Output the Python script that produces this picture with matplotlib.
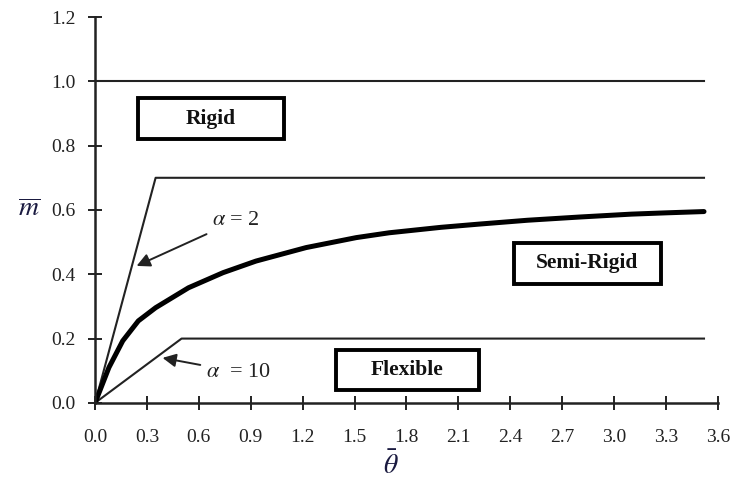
import numpy as np
import matplotlib.pyplot as plt
from matplotlib.patches import Rectangle

# moment-rotation curve
theta_curve = [0.0, 0.08, 0.16, 0.25, 0.35, 0.54, 0.74, 0.93, 1.22, 1.51, 1.70,
               2.0, 2.22, 2.5, 2.8, 3.1, 3.3, 3.52]
m_curve = [0.0, 0.11, 0.193, 0.255, 0.296, 0.358, 0.405, 0.441, 0.483, 0.514, 0.529,
           0.546, 0.556, 0.568, 0.578, 0.587, 0.591, 0.595]

# boundary lines
theta_rigid = [0.0, 3.52]
m_rigid = [1.0, 1.0]
theta_a2 = [0.0, 0.35, 3.52]
m_a2 = [0.0, 0.70, 0.70]
theta_a10 = [0.0, 0.50, 3.52]
m_a10 = [0.0, 0.20, 0.20]

xticks = np.arange(0, 3.61, 0.3)
yticks = np.arange(0, 1.21, 0.2)

# region labels: text, (x0, x1), (y0, y1) in data units
regions = [
    ('Rigid', (0.25, 1.09), (0.82, 0.948)),
    ('Semi-Rigid', (2.42, 3.27), (0.37, 0.497)),
    ('Flexible', (1.39, 2.22), (0.04, 0.165)),
]

plt.rcParams['font.family'] = ['Liberation Serif', 'DejaVu Serif']
plt.rcParams['mathtext.fontset'] = 'stix'

fig = plt.figure(figsize=(7.37, 4.86), dpi=100)
ax = fig.add_axes([0.129, 0.171, 0.845, 0.794])

ax.plot(theta_rigid, m_rigid, color='#222222', lw=1.5)
ax.plot(theta_a2, m_a2, color='#222222', lw=1.5)
ax.plot(theta_a10, m_a10, color='#222222', lw=1.5)
ax.plot(theta_curve, m_curve, color='black', lw=3.6, solid_capstyle='round')

ax.set_xlim(0, 3.6)
ax.set_ylim(0, 1.2)
ax.set_xticks(xticks)
ax.set_yticks(yticks)
ax.set_xticklabels(['%.1f' % v for v in xticks])
ax.set_yticklabels(['%.1f' % v for v in yticks])
ax.tick_params(direction='inout', length=10, width=1.4, labelsize=14,
               colors='#222222')
ax.tick_params(axis='x', pad=14)
ax.tick_params(axis='y', pad=9)
for s in ['top', 'right']:
    ax.spines[s].set_visible(False)
for s in ['left', 'bottom']:
    ax.spines[s].set_linewidth(1.8)
    ax.spines[s].set_color('#222222')

for label, (x0, x1), (y0, y1) in regions:
    ax.add_patch(Rectangle((x0, y0), x1 - x0, y1 - y0, fill=False,
                           ec='black', lw=2.8, zorder=3))
    ax.text((x0 + x1) / 2, (y0 + y1) / 2, label, ha='center', va='center',
            fontsize=15.5, fontweight='bold', color='#111111', zorder=4)

# alpha annotations
ax.annotate(r'$\alpha$ = 2', xy=(0.24, 0.426), xytext=(0.675, 0.566),
            fontsize=16, va='center', ha='left', color='#222222',
            arrowprops=dict(arrowstyle='-|>', color='#222222', lw=1.4,
                            mutation_scale=20, shrinkA=2, shrinkB=0))
ax.annotate(r'$\alpha$  = 10', xy=(0.39, 0.14), xytext=(0.64, 0.096),
            fontsize=16, va='center', ha='left', color='#222222',
            arrowprops=dict(arrowstyle='-|>', color='#222222', lw=1.4,
                            mutation_scale=20, shrinkA=2, shrinkB=0))

fig.text(0.040, 0.568, r'$\overline{m}$', fontsize=20, color='#1a1a40',
         ha='center', va='center')
fig.text(0.530, 0.042, r'$\bar{\theta}$', fontsize=20, color='#1a1a40',
         ha='center', va='center')

fig.savefig('out.png', dpi=100)
